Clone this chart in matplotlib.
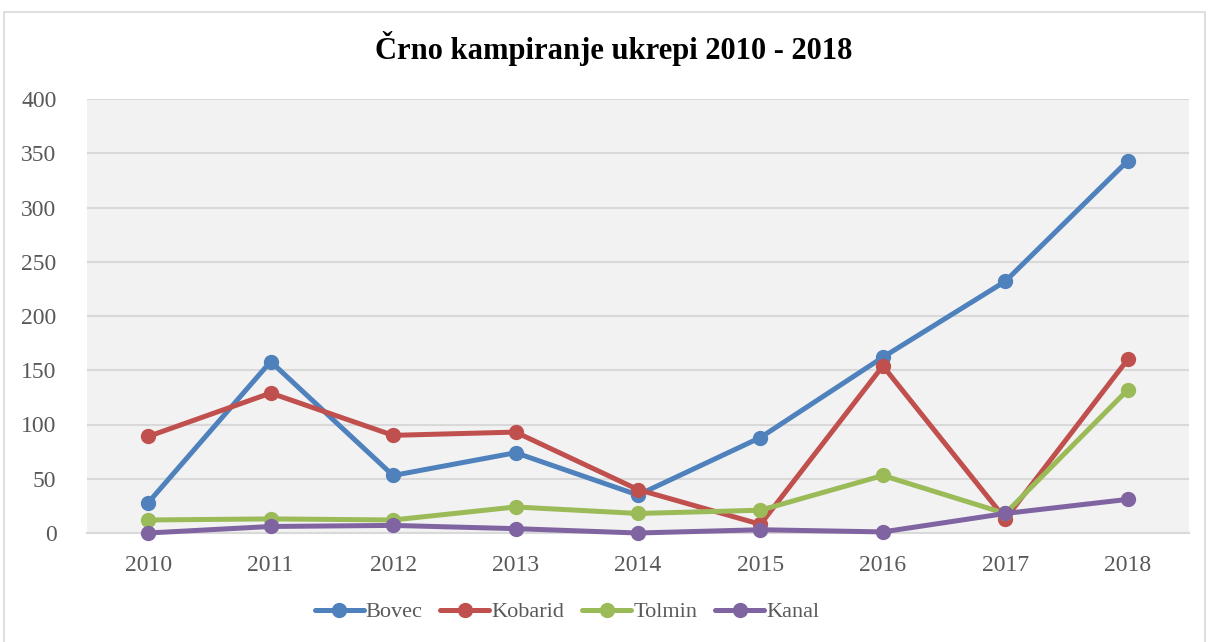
import matplotlib.pyplot as plt
from matplotlib.patches import Rectangle

years = ["2010", "2011", "2012", "2013", "2014", "2015", "2016", "2017", "2018"]
bovec = [28, 158, 53, 74, 35, 88, 162, 232, 343]
kobarid = [89, 129, 90, 93, 40, 8, 154, 13, 160]
tolmin = [12, 13, 12, 24, 18, 21, 53, 18, 132]
kanal = [0, 6, 7, 4, 0, 3, 1, 18, 31]

series = [("Bovec", bovec, "#4F81BD"),
          ("Kobarid", kobarid, "#C0504D"),
          ("Tolmin", tolmin, "#9BBB59"),
          ("Kanal", kanal, "#8064A2")]

plt.rcParams['font.family'] = ['Liberation Serif', 'DejaVu Serif']

fig = plt.figure(figsize=(12.08, 6.42), dpi=100)
# outer chart border
fig.patches.append(Rectangle((4 / 1208, -0.01), 1201 / 1208, 1 - 12 / 642 + 0.01,
                             transform=fig.transFigure, fill=False,
                             edgecolor="#D9D9D9", linewidth=1.2))

ax = fig.add_axes([87 / 1208, 1 - 533 / 642, (1189 - 87) / 1208, (533 - 99) / 642])
ax.set_facecolor("#F2F2F2")

x = range(len(years))
for name, vals, col in series:
    ax.plot(x, vals, color=col, linewidth=3.6, marker="o", markersize=10,
            label=name, solid_capstyle="round", clip_on=False, zorder=3)

ax.set_xlim(-0.5, len(years) - 0.5)
ax.set_ylim(0, 400)
ax.set_yticks(range(0, 401, 50))
ax.set_xticks(list(x))
ax.set_xticklabels(years)
ax.grid(axis="y", color="#D9D9D9", linewidth=1.5)
ax.set_axisbelow(True)
for s in ["top", "right", "left"]:
    ax.spines[s].set_visible(False)
ax.spines["bottom"].set_color("#D9D9D9")
ax.spines["bottom"].set_linewidth(1.5)
ax.tick_params(length=0, labelsize=17, colors="#595959")
ax.tick_params(axis="x", pad=16)
ax.tick_params(axis="y", pad=22)

fig.text(614 / 1208, 1 - 48 / 642, "Črno kampiranje ukrepi 2010 - 2018", ha="center", va="center",
         fontsize=22, fontweight="bold", color="black")

fig.legend(loc="center", bbox_to_anchor=(567 / 1208, 1 - 612 / 642), ncol=4, frameon=False,
           fontsize=16, handlelength=2.2, columnspacing=0.8, handletextpad=0.1,
           labelcolor="#595959")

fig.savefig("out.png", dpi=100, facecolor="white")
